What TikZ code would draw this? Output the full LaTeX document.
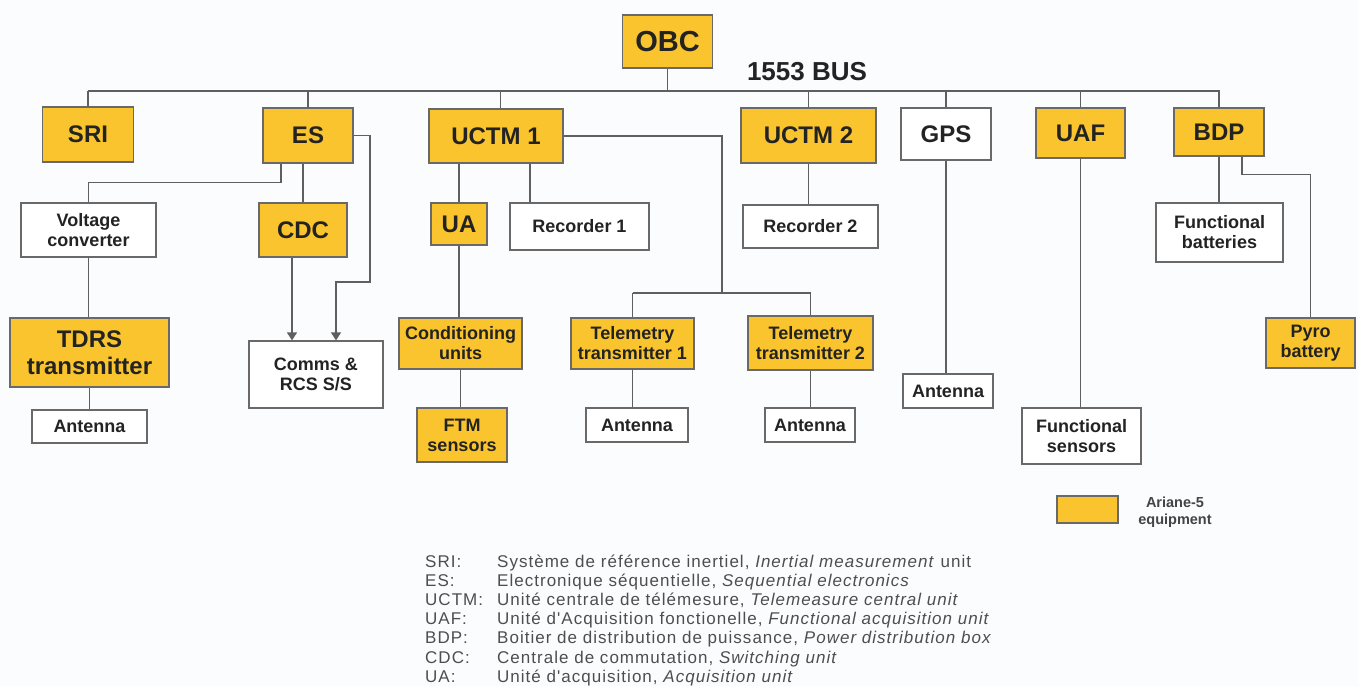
\documentclass[tikz,border=0pt]{standalone}
\usepackage{fontspec}
\setmainfont{Liberation Sans}
\newfontfamily\notefont[LetterSpace=6]{Liberation Sans}
\usetikzlibrary{arrows.meta}

\definecolor{ayellow}{RGB}{249,196,45}
\definecolor{edge}{RGB}{105,105,105}
\definecolor{wire}{RGB}{95,95,95}
\definecolor{ink}{RGB}{35,35,35}
\definecolor{note}{RGB}{78,78,78}
\definecolor{paper}{RGB}{251,252,253}

\tikzset{
  unit/.style={draw=edge, line width=1.3pt, inner sep=0pt, align=center, text=ink},
  yunit/.style={unit, fill=ayellow},
  wunit/.style={unit, fill=white},
  big/.style={font=\bfseries\fontsize{24}{27}\selectfont},
  small/.style={font=\bfseries\fontsize{18}{20}\selectfont},
  wire/.style={draw=wire, line width=1.4pt},
  feed/.style={wire, -{Triangle[width=10pt,length=8pt]}},
  abbr/.style={anchor=base west, inner sep=0pt, text=note, font=\notefont\fontsize{17}{19}\selectfont},
}

\begin{document}
\begin{tikzpicture}[x=1pt, y=-1pt]
\useasboundingbox[fill=paper] (0,0) rectangle (1358,686);

% on-board computer and the 1553 bus
\node[yunit, minimum width=90, minimum height=53, font=\bfseries\fontsize{29}{30}\selectfont] (obc) at (667.5,41.5) {OBC};
\node[inner sep=0pt, text=ink, font=\bfseries\fontsize{26}{28}\selectfont] (buslabel) at (807,72) {1553 BUS};
\coordinate (busL) at (88,91);
\coordinate (busR) at (1220,91);

% units on the bus
\node[yunit, big, minimum width=91, minimum height=55] (sri) at (88,134.5) {SRI};
\node[yunit, big, minimum width=90, minimum height=55] (es) at (308,135.5) {ES};
\node[yunit, big, minimum width=134, minimum height=54] (u1) at (496,136) {UCTM 1};
\node[yunit, big, minimum width=135, minimum height=55] (u2) at (808.5,135.5) {UCTM 2};
\node[wunit, big, minimum width=90, minimum height=52] (gps) at (946,134) {GPS};
\node[yunit, big, minimum width=89, minimum height=50] (uaf) at (1080.5,133) {UAF};
\node[yunit, big, minimum width=90, minimum height=48] (bdp) at (1219,132) {BDP};

% second level
\node[wunit, small, minimum width=135, minimum height=54] (vc) at (88.5,230) {Voltage\\converter};
\node[yunit, big, minimum width=88, minimum height=54] (cdc) at (303,230) {CDC};
\node[yunit, big, minimum width=56, minimum height=42] (ua) at (459,224) {UA};
\node[wunit, small, minimum width=139, minimum height=47] (r1) at (579.5,226.5) {Recorder 1};
\node[wunit, small, minimum width=135, minimum height=43] (r2) at (810.5,226.5) {Recorder 2};
\node[wunit, small, minimum width=127, minimum height=59] (fb) at (1219.5,232.5) {Functional\\batteries};

% third level
\node[yunit, big, minimum width=159, minimum height=69] (tdrs) at (89.5,352.5) {TDRS\\transmitter};
\node[wunit, small, minimum width=134, minimum height=67] (comms) at (316,374.5) {Comms \&\\RCS S/S};
\node[yunit, small, minimum width=123, minimum height=51] (cond) at (460.5,343.5) {Conditioning\\units};
\node[yunit, small, minimum width=123, minimum height=51] (tt1) at (632.5,343.5) {Telemetry\\transmitter 1};
\node[yunit, small, minimum width=125, minimum height=54] (tt2) at (810.5,343) {Telemetry\\transmitter 2};
\node[yunit, small, minimum width=89, minimum height=50] (pyro) at (1310.5,343) {Pyro\\battery};

% end items
\node[wunit, small, minimum width=115, minimum height=33] (ant0) at (89.5,426.5) {Antenna};
\node[yunit, small, minimum width=90, minimum height=54] (ftm) at (462,435) {FTM\\sensors};
\node[wunit, small, minimum width=102, minimum height=34] (ant1) at (637,425) {Antenna};
\node[wunit, small, minimum width=90, minimum height=34] (ant2) at (810,425) {Antenna};
\node[wunit, small, minimum width=90, minimum height=34] (ant3) at (948,391) {Antenna};
\node[wunit, small, minimum width=119, minimum height=56] (fs) at (1081.5,436) {Functional\\sensors};

% bus and its drops
\draw[wire] (busL) -- (busR);
\draw[wire] (obc.south) -- (obc.south |- busL);
\draw[wire] (sri.north |- busL) -- (sri.north);
\draw[wire] (es.north |- busL) -- (es.north);
\draw[wire] ([xshift=4.5pt]u1.north |- busL) -- ([xshift=4.5pt]u1.north);
\draw[wire] (u2.north |- busL) -- (u2.north);
\draw[wire] (gps.north |- busL) -- (gps.north);
\draw[wire] (uaf.north |- busL) -- (uaf.north);
\draw[wire] (bdp.north |- busL) -- (bdp.north);

% ES branch
\draw[wire] ([xshift=-27pt]es.south) -- ++(0,19) -| (vc.north);
\draw[wire] (cdc.north |- es.south) -- (cdc.north);
\coordinate (esr) at (370,282);
\draw[feed] (es.east) -| (esr) -| ([xshift=20pt]comms.north);
\draw[feed] ([xshift=-24pt]comms.north |- cdc.south) -- ([xshift=-24pt]comms.north);
\draw[wire] (vc.south) -- (vc.south |- tdrs.north);
\draw[wire] (tdrs.south) -- (tdrs.south |- ant0.north);

% UCTM 1 branch
\draw[wire] (ua.north |- u1.south) -- (ua.north);
\draw[wire] ([xshift=34pt]u1.south) -- ([xshift=34pt]u1.south |- r1.north);
\draw[wire] (ua.south) -- (ua.south |- cond.north);
\draw[wire] (cond.south) -- (cond.south |- ftm.north);
\coordinate (tj) at (722,293);
\draw[wire] (u1.east) -| (tj);
\draw[wire] (tt1.north |- tj) -- (tt2.north |- tj);
\draw[wire] (tt1.north |- tj) -- (tt1.north);
\draw[wire] (tt2.north |- tj) -- (tt2.north);
\draw[wire] (tt1.south) -- (tt1.south |- ant1.north);
\draw[wire] (tt2.south) -- (tt2.south |- ant2.north);

% remaining branches
\draw[wire] (u2.south) -- (u2.south |- r2.north);
\draw[wire] (gps.south) -- (gps.south |- ant3.north);
\draw[wire] (uaf.south) -- (uaf.south |- fs.north);
\draw[wire] (bdp.south) -- (bdp.south |- fb.north);
\draw[wire] ([xshift=23pt]bdp.south) -- ++(0,18) -| (pyro.north);

% key
\node[yunit, minimum width=61, minimum height=27] (key) at (1087.5,509.5) {};
\node[inner sep=0pt, align=center, text=ink!85, font=\bfseries\fontsize{14.5}{17}\selectfont] (keytext) at (1175,512) {Ariane-5\\equipment};

% abbreviations
\node[abbr] (sa) at (425,567.0) {SRI:};
\node[abbr] (la) at (497,567.0) {Système de référence inertiel, \textit{Inertial measurement} unit};
\node[abbr] (sb) at (425,586.2) {ES:};
\node[abbr] (lb) at (497,586.2) {Electronique séquentielle, \textit{Sequential electronics}};
\node[abbr] (sc) at (425,605.4) {UCTM:};
\node[abbr] (lc) at (497,605.4) {Unité centrale de télémesure, \textit{Telemeasure central unit}};
\node[abbr] (sd) at (425,624.6) {UAF:};
\node[abbr] (ld) at (497,624.6) {Unité d'Acquisition fonctionelle, \textit{Functional acquisition unit}};
\node[abbr] (se) at (425,643.8) {BDP:};
\node[abbr] (le) at (497,643.8) {Boitier de distribution de puissance, \textit{Power distribution box}};
\node[abbr] (sf) at (425,663.0) {CDC:};
\node[abbr] (lf) at (497,663.0) {Centrale de commutation, \textit{Switching unit}};
\node[abbr] (sg) at (425,682.2) {UA:};
\node[abbr] (lg) at (497,682.2) {Unité d'acquisition, \textit{Acquisition unit}};
\end{tikzpicture}
\end{document}
